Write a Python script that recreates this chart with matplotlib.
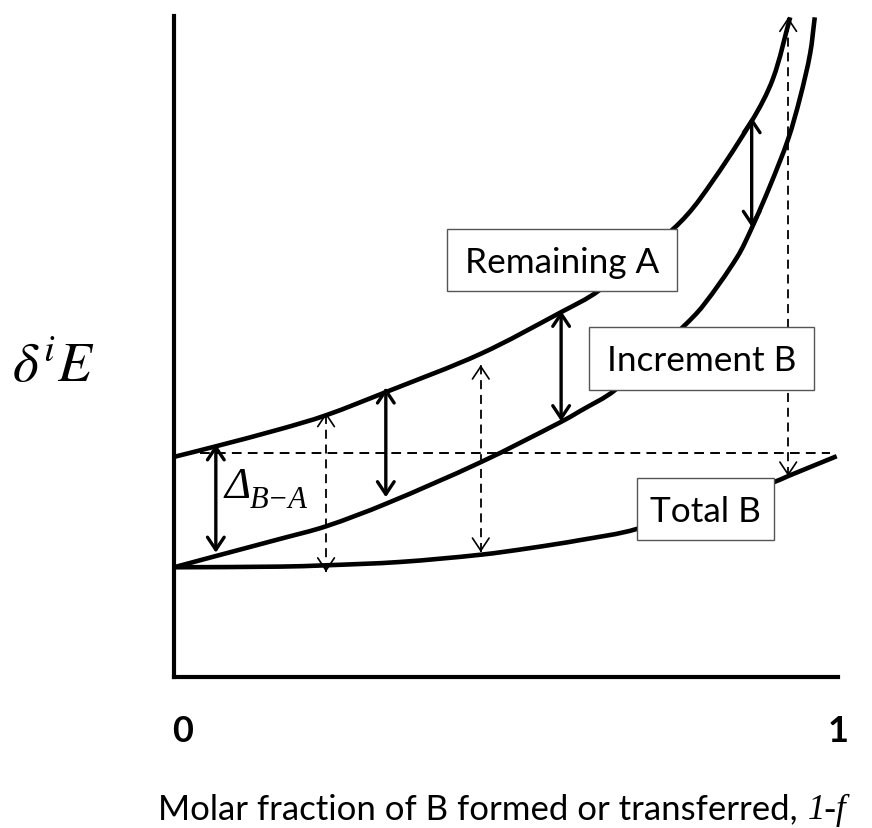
import matplotlib
matplotlib.use("Agg")
import numpy as np
import matplotlib.pyplot as plt
from matplotlib.patches import Rectangle, PathPatch
from matplotlib.path import Path
from matplotlib.transforms import ScaledTranslation

plt.rcParams["mathtext.fontset"] = "stix"

W, H, DPI = 872, 829, 100

# ---------------- data ----------------
x_remaining_a = [0.000, 0.063, 0.160, 0.229, 0.319, 0.462, 0.583, 0.639, 0.752, 0.792, 0.870, 0.902, 0.928]
y_remaining_a = [3.33, 3.49, 3.75, 3.96, 4.31, 4.89, 5.52, 5.84, 6.78, 7.23, 8.41, 9.05, 9.98]

x_increment_b = [0.000, 0.063, 0.160, 0.229, 0.319, 0.462, 0.583, 0.611, 0.664, 0.767, 0.797,
                 0.848, 0.870, 0.898, 0.925, 0.943, 0.958, 0.965]
y_increment_b = [1.66, 1.83, 2.09, 2.28, 2.62, 3.25, 3.86, 4.02, 4.34, 5.30, 5.62,
                 6.35, 6.79, 7.44, 8.14, 8.77, 9.43, 9.98]

x_total_b = [0.000, 0.160, 0.229, 0.340, 0.462, 0.536, 0.611, 0.697, 0.904, 0.925, 0.998]
y_total_b = [1.66, 1.67, 1.69, 1.74, 1.85, 1.95, 2.07, 2.24, 2.95, 3.04, 3.34]

# solid double arrows: Increment B -> Remaining A
solid_arrow_x = [0.063, 0.319, 0.583, 0.870]
solid_arrow_lo = [1.88, 2.72, 3.87, 6.81]
solid_arrow_hi = [3.52, 4.38, 5.54, 8.47]

# dashed double arrows: Total B -> Remaining A
dashed_arrow_x = [0.229, 0.462, 0.925]
dashed_arrow_lo = [1.59, 1.89, 3.04]
dashed_arrow_hi = [4.00, 4.72, 9.98]

# dashed reference line
ref_level = 3.39
ref_x_start, ref_x_end = 0.039, 0.988

tick_positions = [0, 1]
tick_labels = ["0", "1"]

box_labels = ["Remaining A", "Increment B", "Total B"]
xlabel_main = "Molar fraction of B formed or transferred,"
xlabel_var = "1-f"
ylabel = r"$\delta^{i}E$"
delta_main = "\u0394"
delta_sub = "B\u2212A"

# ---------------- figure ----------------
fig = plt.figure(figsize=(W / DPI, H / DPI), dpi=DPI)
ax = fig.add_axes([174 / W, (H - 678) / H, (838 - 174) / W, (678 - 17) / H])
ax.set_xlim(0, 1)
ax.set_ylim(0, 10)
for s in ["top", "right"]:
    ax.spines[s].set_visible(False)
for s in ["left", "bottom"]:
    ax.spines[s].set_linewidth(3)
    ax.spines[s].set_capstyle("projecting")
ax.set_yticks([])
ax.set_xticks(tick_positions, tick_labels)
ax.tick_params(axis="x", length=0, pad=27, labelsize=26)
for i, lab in enumerate(ax.get_xticklabels()):
    lab.set_fontfamily("Lato")
    lab.set_fontweight("bold")
    if i == 0:
        lab.set_transform(lab.get_transform() + ScaledTranslation(9 / DPI, 0, fig.dpi_scale_trans))


def smooth_curve(xs, ys, **kw):
    """Draw a smooth curve passing through the read points (chord-scaled Hermite)."""
    P = np.column_stack([xs, ys]).astype(float)
    D = ax.transData.transform(P)
    n = len(P)
    verts = [P[0]]
    codes = [Path.MOVETO]
    for i in range(n - 1):
        i0, i3 = max(i - 1, 0), min(i + 2, n - 1)
        d01 = np.hypot(*(D[i] - D[i0]))
        d12 = np.hypot(*(D[i + 1] - D[i]))
        d23 = np.hypot(*(D[i3] - D[i + 1]))
        t1 = (P[i + 1] - P[i0]) / (d01 + d12)
        t2 = (P[i3] - P[i]) / (d12 + d23)
        verts += [P[i] + t1 * d12 / 3, P[i + 1] - t2 * d12 / 3, P[i + 1]]
        codes += [Path.CURVE4] * 3
    ax.add_patch(PathPatch(Path(verts, codes), fill=False, **kw))


line_kw = dict(edgecolor="black", lw=3.3, joinstyle="round", capstyle="butt", clip_on=False, zorder=2)
smooth_curve(x_remaining_a, y_remaining_a, **line_kw)
smooth_curve(x_increment_b, y_increment_b, **line_kw)
smooth_curve(x_total_b, y_total_b, **line_kw)

ax.plot([ref_x_start, ref_x_end], [ref_level, ref_level], color="black", lw=1.4,
        ls=(0, (5, 3.2)), zorder=1)

for x, lo, hi in zip(solid_arrow_x, solid_arrow_lo, solid_arrow_hi):
    ax.annotate("", xy=(x, hi), xytext=(x, lo),
                arrowprops=dict(arrowstyle="<->,head_length=0.45,head_width=0.3",
                                lw=2.4, color="black", shrinkA=0, shrinkB=0,
                                mutation_scale=20), zorder=3)

for x, lo, hi in zip(dashed_arrow_x, dashed_arrow_lo, dashed_arrow_hi):
    ax.plot([x, x], [lo, hi], color="black", lw=1.3, ls=(0, (5, 3.2)), zorder=1, clip_on=False)
    for tip, off in ((hi, -2), (lo, 2)):
        ax.annotate("", xy=(x, tip), xytext=(0, off), textcoords="offset points",
                    arrowprops=dict(arrowstyle="->,head_length=0.45,head_width=0.3",
                                    lw=1.2, color="black", shrinkA=0, shrinkB=0,
                                    mutation_scale=20), zorder=3, annotation_clip=False)

# label boxes (x0, x1, y0, y1 in data coordinates)
boxes = [(0.411, 0.758, 5.84, 6.78), (0.625, 0.964, 4.34, 5.30), (0.697, 0.904, 2.07, 3.01)]
box_texts = []
for (x0, x1, y0, y1), lab in zip(boxes, box_labels):
    ax.add_patch(Rectangle((x0, y0), x1 - x0, y1 - y0, facecolor="white",
                           edgecolor="#555555", lw=1.0, zorder=4, clip_on=False))
    t = ax.text((x0 + x1) / 2, (y0 + y1) / 2 - 0.03, lab, fontfamily="Lato", fontsize=21,
                ha="center", va="center", zorder=5)
    box_texts.append(t)

# Delta_{B-A} label (italic serif)
fig.text(224 / W, 1 - 498 / H, delta_main, fontfamily="Liberation Serif", fontstyle="italic",
         fontsize=32, ha="left", va="baseline")
fig.text(250 / W, 1 - 508 / H, delta_sub, fontfamily="Liberation Serif", fontstyle="italic",
         fontsize=22, ha="left", va="baseline")

fig.text(12 / W, 1 - 382 / H, ylabel, fontsize=40, ha="left", va="baseline")

t1 = fig.text(158 / W, 1 - 819 / H, xlabel_main, fontfamily="Lato", fontsize=25,
              ha="left", va="baseline")

# fit text widths to the reference layout
fig.canvas.draw()
r = fig.canvas.get_renderer()
w = t1.get_window_extent(r).width
t1.set_fontsize(25 * 640 / w)
w0 = box_texts[0].get_window_extent(r).width
for t in box_texts:
    t.set_fontsize(21 * 194 / w0)
fig.canvas.draw()
bb = t1.get_window_extent(r)
fig.text((bb.x1 + 10) / W, 1 - 819 / H, xlabel_var, fontfamily="Liberation Serif",
         fontstyle="italic", fontsize=25, ha="left", va="baseline")

fig.savefig("out.png", dpi=DPI)
